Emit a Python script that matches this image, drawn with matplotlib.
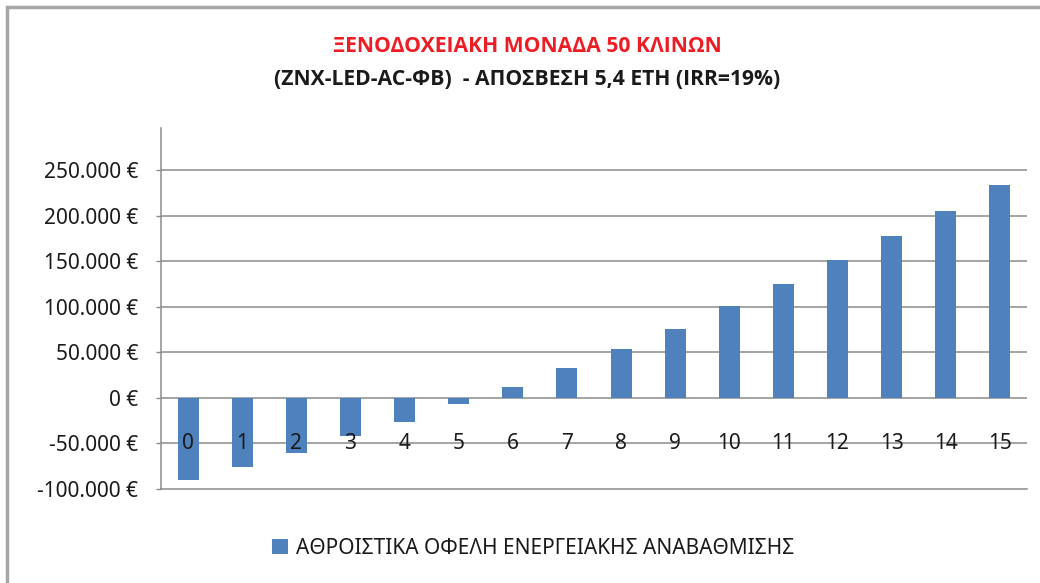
import matplotlib
matplotlib.use("Agg")
import matplotlib.pyplot as plt
from matplotlib.patches import Rectangle
from matplotlib.ticker import FuncFormatter

plt.rcParams['font.family'] = ['Noto Sans', 'DejaVu Sans']

years = list(range(16))
values = [-90000, -76000, -60000, -42000, -26000, -7000, 12000, 33000,
          54000, 76000, 101000, 125000, 151000, 177000, 205000, 233000]
yticks = [-100000, -50000, 0, 50000, 100000, 150000, 200000, 250000]
title1 = "ΞΕΝΟΔΟΧΕΙΑΚΗ ΜΟΝΑΔΑ 50 ΚΛΙΝΩΝ"
title2 = "(ZNX-LED-AC-ΦΒ)  - ΑΠΟΣΒΕΣΗ 5,4 ΕΤΗ (IRR=19%)"
series_name = "ΑΘΡΟΙΣΤΙΚΑ ΟΦΕΛΗ ΕΝΕΡΓΕΙΑΚΗΣ ΑΝΑΒΑΘΜΙΣΗΣ"

W, H = 1040, 583
fig = plt.figure(figsize=(W / 100, H / 100), dpi=100)
fig.patch.set_facecolor('white')

# outer chart frame
fig.add_artist(Rectangle((7 / W, -0.05), 1.1, 1 - 7 / H + 0.05, transform=fig.transFigure,
                         fill=False, edgecolor='#a6a6a6', linewidth=2.5))

ax = fig.add_axes([161 / W, 1 - 489 / H, (1027 - 161) / W, (489 - 128) / H])
bar_color = '#4F81BD'
grid_color = '#8c8c8c'
bars = ax.bar(years, values, width=0.39, color=bar_color, zorder=3, label=series_name)

ax.set_xlim(-0.5, 15.5)
ax.set_ylim(-100000, 296000)
ax.set_yticks(yticks)

def eur(v, pos):
    s = f"{int(round(v)):,}".replace(",", ".")
    return f"{s} €"

ax.yaxis.set_major_formatter(FuncFormatter(eur))
ax.tick_params(axis='y', length=3.5, width=1, color=grid_color, labelsize=15,
               labelcolor='#1a1a1a', pad=13)
ax.set_xticks([])
for yv in yticks[1:]:
    ax.axhline(yv, color=grid_color, linewidth=1.1, zorder=1)

for s in ['top', 'right']:
    ax.spines[s].set_visible(False)
ax.spines['left'].set_color(grid_color)
ax.spines['bottom'].set_color(grid_color)
ax.spines['left'].set_linewidth(1.1)
ax.spines['bottom'].set_linewidth(1.1)

for x in years:
    ax.text(x, -50000, str(x), ha='center', va='center', fontsize=15,
            color='#1a1a1a', zorder=4)

title_fam = ['Open Sans', 'DejaVu Sans']
fig.text(527 / W, 1 - 47 / H, title1, ha='center', va='center', fontsize=15.2,
         fontweight='bold', color='#ee1c25', family=title_fam)
fig.text(527 / W, 1 - 80 / H, title2, ha='center', va='center', fontsize=15.2,
         fontweight='bold', color='#1a1a1a', family=title_fam)

fig.legend(handles=[bars], labels=[series_name], loc='center',
           bbox_to_anchor=(533 / W, 1 - 548 / H), frameon=False, fontsize=15,
           handlelength=0.75, handleheight=0.75, handletextpad=0.4,
           labelcolor='#1a1a1a')

fig.savefig('out.png', dpi=100)
